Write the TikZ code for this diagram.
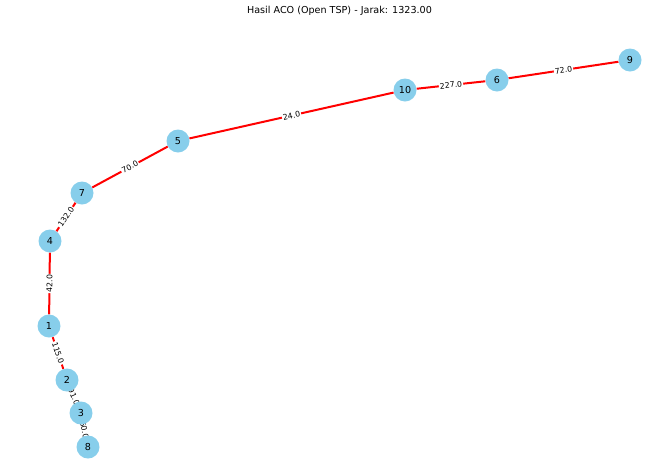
\documentclass[tikz,border=0pt]{standalone}
\usepackage{fontspec}
\setmainfont{DejaVu Sans}
\usepackage{tikz}
\definecolor{acoCity}{HTML}{87CEEB}
\definecolor{acoRoute}{HTML}{FF0000}
\pgfdeclarelayer{background}
\pgfsetlayers{background,main}

\begin{document}
\begin{tikzpicture}[
        x=1pt, y=-1pt,
        city/.style={
          circle, fill=acoCity, minimum size=23pt, inner sep=0pt,
          font=\fontsize{9.6}{10}\selectfont
        },
        route/.style={draw=acoRoute, line width=2pt},
        dist/.style={
          midway, sloped, fill=white, inner sep=1pt,
          font=\fontsize{7.8}{8}\selectfont
        }
      ]
      \useasboundingbox (0,0) rectangle (656,464);

      % --- JUDUL ---
      \node[font=\fontsize{9.6}{10}\selectfont] (judul) at (339.5,11)
        {Hasil ACO (Open TSP) - Jarak: 1323.00};

      % --- KOTA ---
      \node[city] (k9) at (630,60) {9};
      \node[city] (k6) at (497,80) {6};
      \node[city] (k10) at (405,90) {10};
      \node[city] (k5) at (178,141) {5};
      \node[city] (k7) at (82,193) {7};
      \node[city] (k4) at (50,241) {4};
      \node[city] (k1) at (49,326) {1};
      \node[city] (k2) at (67,380) {2};
      \node[city] (k3) at (81,413) {3};
      \node[city] (k8) at (88,447) {8};

      % --- RUTE TERBAIK ---
      \begin{pgfonlayer}{background}
        \draw[route] (k9) -- node[dist]{72.0} (k6);
        \draw[route] (k6) -- node[dist]{227.0} (k10);
        \draw[route] (k10) -- node[dist]{24.0} (k5);
        \draw[route] (k5) -- node[dist]{70.0} (k7);
        \draw[route] (k7) -- node[dist]{132.0} (k4);
        \draw[route] (k1) -- node[dist]{42.0} (k4);
        \draw[route] (k1) -- node[dist]{115.0} (k2);
        \draw[route] (k2) -- node[dist]{91.0} (k3);
        \draw[route] (k3) -- node[dist]{50.0} (k8);
      \end{pgfonlayer}

    \end{tikzpicture}
\end{document}
